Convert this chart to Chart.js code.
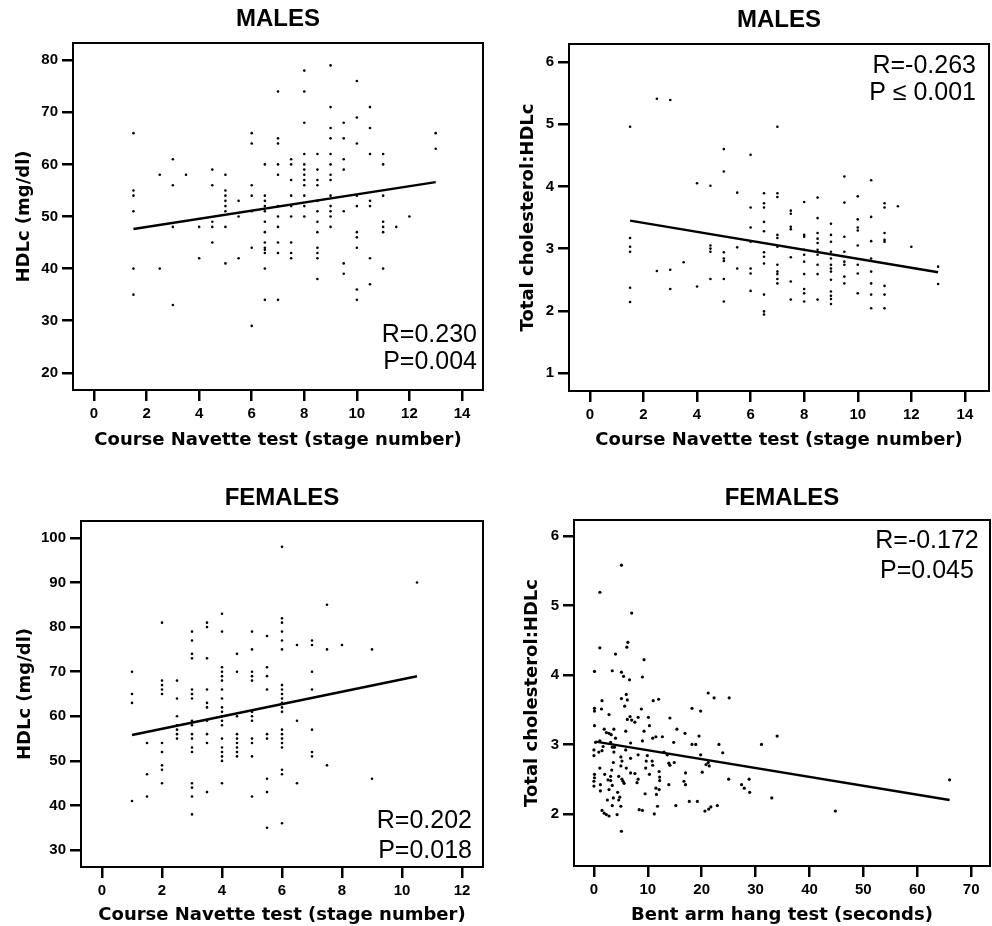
<!DOCTYPE html>
<html>
<head>
<meta charset="utf-8">
<script src="https://cdn.jsdelivr.net/npm/chart.js@4.4.1/dist/chart.umd.min.js"></script>
<style>
  body { margin: 0; background: #fff; }
  #wrap { position: relative; width: 992px; height: 926px; }
  canvas { position: absolute; }
</style>
</head>
<body>
<div id="wrap">
  <canvas id="c1" width="496" height="460" style="left:0;top:0"></canvas>
  <canvas id="c2" width="496" height="460" style="left:496px;top:0"></canvas>
  <canvas id="c3" width="496" height="466" style="left:0;top:460px"></canvas>
  <canvas id="c4" width="496" height="466" style="left:496px;top:460px"></canvas>
</div>
<script>
// males: HDLc vs Course Navette stage
const m1Stage = [1.5, 2.5, 3, 3.5, 4, 4.5, 5, 5.5, 6, 6.5, 7, 7.5, 8, 8.5, 9, 9.5, 10, 10.5, 11, 11.5, 12, 13];
const m1Hdl = [
  [66, 55, 54, 51, 40, 35],
  [58, 40],
  [61, 56, 48, 33],
  [58],
  [48, 42],
  [59, 56, 49, 48, 45],
  [58, 55, 54, 53, 52, 51, 48, 41],
  [53, 50, 42],
  [66, 64, 56, 54, 51, 44, 29],
  [60, 54, 53, 52, 51, 49, 47, 45, 44, 43.6, 43, 40, 34],
  [74, 65, 64, 60, 58, 52, 50, 48, 45, 43, 34],
  [61, 60, 57, 54, 52, 50, 45, 43, 42],
  [78, 74, 68, 62, 60, 59, 58, 57, 56, 54, 52, 50],
  [62, 59, 57, 56, 53, 51, 49, 47, 44, 43, 42, 38],
  [79, 71, 67, 65, 62, 60, 58, 57, 54, 52, 51, 50, 48],
  [68, 65, 61, 59, 51, 41, 39],
  [76, 69, 64, 54, 52, 47, 46, 44, 36, 34],
  [71, 67, 62, 53, 52, 42, 37],
  [62, 60, 54, 49, 48, 47, 40],
  [48],
  [50],
  [66, 63]
];
const m1Fit = [[1.5, 47.6], [13, 56.6]];

// males: total cholesterol:HDLc vs Course Navette stage
const m2Stage = [1.5, 2.5, 3, 3.5, 4, 4.5, 5, 5.5, 6, 6.5, 7, 7.5, 8, 8.5, 9, 9.5, 10, 10.5, 11, 11.5, 12, 13];
const m2Ratio = [
  [4.96, 3.17, 3.03, 2.95, 2.37, 2.14],
  [5.41, 2.64],
  [5.39, 2.66, 2.35],
  [2.78],
  [4.05, 2.39],
  [4.01, 3.05, 3.0, 2.95, 2.51],
  [4.6, 4.24, 2.94, 2.84, 2.8, 2.51, 2.15],
  [3.9, 3.02, 2.68],
  [4.51, 3.66, 3.34, 3.11, 2.68, 2.6, 2.32],
  [3.89, 3.73, 3.66, 3.43, 3.28, 2.94, 2.87, 2.76, 2.26, 1.99, 1.94],
  [4.96, 3.89, 3.83, 3.22, 3.17, 3.03, 2.74, 2.63, 2.59, 2.51, 2.44],
  [3.61, 3.56, 3.35, 3.31, 2.86, 2.47, 2.18],
  [3.75, 3.22, 3.19, 2.98, 2.9, 2.79, 2.59, 2.35, 2.28, 2.15],
  [3.82, 3.49, 3.25, 3.16, 3.09, 2.98, 2.9, 2.74, 2.59, 2.18],
  [3.4, 3.22, 3.11, 2.95, 2.84, 2.74, 2.68, 2.63, 2.5, 2.31, 2.24, 2.19, 2.11],
  [4.16, 3.74, 3.19, 2.95, 2.79, 2.74, 2.55, 2.44],
  [3.84, 3.47, 3.34, 3.29, 3.05, 2.74, 2.6, 2.28],
  [4.1, 3.51, 3.12, 2.84, 2.63, 2.44, 2.26, 2.04],
  [3.73, 3.66, 3.25, 3.14, 3.11, 2.4, 2.26, 2.04],
  [3.68],
  [3.03],
  [2.71, 2.43]
];
const m2Fit = [[1.5, 3.45], [13, 2.62]];

// females: HDLc vs Course Navette stage
const f1Stage = [1, 1.5, 2, 2.5, 3, 3.5, 4, 4.5, 5, 5.5, 6, 6.5, 7, 7.5, 8, 9, 10.5];
const f1Hdl = [
  [70, 65, 63, 41],
  [54, 47, 42],
  [81, 68, 67, 66, 65, 54, 52, 49, 48, 45],
  [68, 64, 60, 58, 57, 56, 55],
  [79, 77, 74, 73, 66, 65, 64, 59, 58, 56, 55, 53, 52, 45, 44, 42, 38],
  [81, 80, 73, 66, 63, 62, 59, 56, 54, 43],
  [83, 79, 71, 70, 69, 68, 66, 64, 62, 61, 60, 59, 58, 55, 53, 52, 51, 50, 45],
  [74, 70, 60, 56, 55, 54, 53, 52, 51],
  [79, 75, 70, 69, 68, 61, 60, 59, 55, 54, 51, 42],
  [78, 71, 69, 66, 56, 55, 46, 43, 35],
  [98, 82, 81, 79, 77, 75, 67, 66, 65, 64, 63, 62, 61, 57, 56, 55, 54, 53, 48, 47, 36],
  [76, 59, 45],
  [77, 76, 70, 66, 57, 52, 51],
  [85, 75, 49],
  [76],
  [75, 46],
  [90]
];
const f1Fit = [[1, 55.8], [10.5, 69]];

// females: total cholesterol:HDLc vs bent arm hang (seconds, ratio)
const f2Points = [
  [5.1, 5.58], [1.1, 5.19], [7.0, 4.89], [6.3, 4.47], [6.1, 4.4], [1.1, 4.39], [4.0, 4.3],
  [9.3, 4.22], [0.1, 4.05], [3.4, 4.06], [5.1, 4.04], [5.5, 3.98], [9.0, 3.97], [6.6, 3.93],
  [21.2, 3.74], [22.3, 3.67], [25.1, 3.67], [6.0, 3.72], [5.1, 3.66], [6.2, 3.64], [1.5, 3.63],
  [11.0, 3.63], [12.0, 3.65], [0.1, 3.52], [1.4, 3.51], [5.7, 3.55], [8.8, 3.51], [18.2, 3.52],
  [19.8, 3.48], [0.1, 3.48], [2.8, 3.43], [6.7, 3.4], [8.2, 3.39], [10.1, 3.39], [14.1, 3.38],
  [6.2, 3.36], [7.0, 3.35], [7.6, 3.32], [0.1, 3.27], [10.3, 3.27], [3.7, 3.22], [1.9, 3.22],
  [2.3, 3.17], [2.8, 3.16], [3.2, 3.14], [5.9, 3.19], [9.3, 3.19], [15.4, 3.22], [16.9, 3.16],
  [19.5, 3.12], [10.9, 3.09], [11.5, 3.11], [12.7, 3.11], [34.0, 3.12], [4.0, 3.09], [1.1, 3.05],
  [0.3, 3.03], [3.1, 3.03], [6.8, 3.02], [9.0, 3.05], [14.8, 3.03], [18.2, 3.0], [18.9, 3.0],
  [23.2, 3.0], [31.1, 3.0], [1.7, 2.97], [3.4, 2.96], [3.8, 2.96], [0, 2.92], [0.9, 2.89],
  [1.5, 2.91], [5.9, 2.92], [13.0, 2.89], [13.6, 2.85], [23.9, 2.88], [0, 2.84], [3.7, 2.89],
  [8.2, 2.85], [9.9, 2.84], [19.8, 2.85], [5.0, 2.82], [6.8, 2.8], [5.2, 2.76], [9.7, 2.76],
  [10.8, 2.76], [5.0, 2.69], [3.6, 2.74], [13.9, 2.73], [14.9, 2.74], [21.2, 2.74], [10.9, 2.7],
  [20.8, 2.71], [21.4, 2.69], [1.1, 2.66], [6.0, 2.66], [9.6, 2.66], [14.1, 2.7], [3.3, 2.63],
  [6.8, 2.59], [7.6, 2.58], [12.1, 2.61], [17.0, 2.59], [20.1, 2.6], [0.1, 2.57], [2.0, 2.57],
  [10.3, 2.57], [3.1, 2.54], [0.1, 2.52], [4.6, 2.54], [12.2, 2.53], [5.2, 2.5], [2.6, 2.49],
  [0, 2.47], [3.1, 2.48], [5.4, 2.47], [8.2, 2.5], [12.2, 2.48], [25.0, 2.5], [28.8, 2.5],
  [16.7, 2.47], [1.2, 2.42], [0, 2.4], [3.4, 2.41], [17.0, 2.42], [13.9, 2.42], [27.4, 2.42],
  [5.6, 2.44], [8.0, 2.45], [2.8, 2.35], [1.2, 2.33], [12.1, 2.35], [11.5, 2.37], [27.9, 2.37],
  [4.4, 2.31], [9.5, 2.29], [28.9, 2.31], [11.6, 2.28], [4.8, 2.24], [2.5, 2.2], [3.6, 2.23],
  [4.6, 2.2], [17.7, 2.18], [19.2, 2.18], [33.0, 2.23], [3.4, 2.12], [5.0, 2.11], [15.2, 2.12],
  [11.8, 2.11], [22.9, 2.12], [1.5, 2.05], [8.4, 2.06], [9.0, 2.05], [20.6, 2.04], [21.3, 2.07],
  [21.7, 2.1], [44.8, 2.04], [1.9, 2.01], [2.3, 1.99], [2.8, 1.97], [4.3, 1.99], [11.2, 2.0],
  [5.1, 1.75], [66.0, 2.49]
];
const f2Fit = [[0.3, 3.04], [66, 2.2]];

const stageTicks = [0, 2, 4, 6, 8, 10, 12, 14];
const stageTicksF = [0, 2, 4, 6, 8, 10, 12];
const secTicks = [0, 10, 20, 30, 40, 50, 60, 70];
const hdlTicksM = [20, 30, 40, 50, 60, 70, 80];
const hdlTicksF = [30, 40, 50, 60, 70, 80, 90, 100];
const ratioTicksM = [1, 2, 3, 4, 5, 6];
const ratioTicksF = [2, 3, 4, 5, 6];

Chart.defaults.font.family = '"Liberation Sans", Arial, sans-serif';
Chart.defaults.color = '#000';

function byStage(stages, values) {
  const pts = [];
  stages.forEach((s, i) => values[i].forEach(v => pts.push({x: s, y: v})));
  return pts;
}
const asXY = arr => arr.map(p => ({x: p[0], y: p[1]}));

const framePlugin = {
  id: 'frame',
  afterDatasetsDraw(chart) {
    const a = chart.chartArea, ctx = chart.ctx;
    ctx.save();
    ctx.strokeStyle = '#000';
    ctx.lineWidth = 2;
    ctx.strokeRect(a.left, a.top, a.right - a.left, a.bottom - a.top);
    ctx.restore();
  }
};

function statsPlugin(lines, x, ys, align) {
  return {
    id: 'stats',
    afterDraw(chart) {
      const ctx = chart.ctx;
      ctx.save();
      ctx.font = '25px "Liberation Sans", Arial, sans-serif';
      ctx.fillStyle = '#000';
      ctx.textAlign = align;
      ctx.textBaseline = 'alphabetic';
      lines.forEach((t, i) => ctx.fillText(t, x, ys[i]));
      ctx.restore();
    }
  };
}

function makeChart(id, p) {
  const canvas = document.getElementById(id);
  return new Chart(canvas, {
    type: 'scatter',
    data: {
      datasets: [
        {
          data: p.points,
          backgroundColor: '#000',
          borderWidth: 0,
          pointRadius: p.dot,
          pointHoverRadius: p.dot
        },
        {
          type: 'line',
          data: asXY(p.fit),
          borderColor: '#000',
          borderWidth: 2.5,
          pointRadius: 0,
          fill: false
        }
      ]
    },
    options: {
      responsive: false,
      animation: false,
      devicePixelRatio: 1,
      layout: { padding: { left: 0, top: 0, bottom: 0, right: canvas.width - p.right } },
      plugins: {
        legend: { display: false },
        tooltip: { enabled: false },
        title: {
          display: true,
          text: p.title,
          fullSize: false,
          font: { size: 24, weight: 'bold' },
          color: '#000',
          padding: p.titlePad
        }
      },
      scales: {
        x: {
          type: 'linear',
          min: p.xMin, max: p.xMax,
          afterBuildTicks: s => { s.ticks = p.xTicks.map(v => ({value: v})); },
          afterFit: s => { s.height = canvas.height - p.bottom; },
          grid: { drawOnChartArea: false, drawTicks: true, tickLength: 11, color: '#000', lineWidth: 2.5 },
          border: { display: false },
          ticks: { font: { size: 15, weight: 'bold' }, color: '#000', padding: 4, maxRotation: 0, autoSkip: false },
          title: {
            display: true,
            text: p.xTitle,
            font: { family: '"DejaVu Sans", sans-serif', size: 18, weight: 'bold' },
            color: '#000',
            padding: { top: 0, bottom: p.xTitlePad }
          }
        },
        y: {
          type: 'linear',
          min: p.yMin, max: p.yMax,
          afterBuildTicks: s => { s.ticks = p.yTicks.map(v => ({value: v})); },
          afterFit: s => { s.width = p.left; },
          grid: { drawOnChartArea: false, drawTicks: true, tickLength: 11, color: '#000', lineWidth: 2.5 },
          border: { display: false },
          ticks: { font: { size: 15, weight: 'bold' }, color: '#000', padding: 4 },
          title: {
            display: true,
            text: p.yTitle,
            font: { family: '"DejaVu Sans", sans-serif', size: 18, weight: 'bold' },
            color: '#000',
            padding: { top: p.yTitlePad, bottom: 0 }
          }
        }
      }
    },
    plugins: [framePlugin, statsPlugin(p.stats, p.statsX, p.statsY, p.statsAlign)]
  });
}

makeChart('c1', {
  points: byStage(m1Stage, m1Hdl), fit: m1Fit, dot: 1.3,
  left: 73, right: 483, bottom: 390,
  title: 'MALES', titlePad: { top: 4.6, bottom: 9.6 },
  xMin: -0.8, xMax: 14.8, xTicks: stageTicks,
  yMin: 16.7, yMax: 83.3, yTicks: hdlTicksM,
  xTitle: 'Course Navette test (stage number)', xTitlePad: 9,
  yTitle: 'HDLc (mg/dl)', yTitlePad: 14,
  stats: ['R=0.230', 'P=0.004'], statsX: 477, statsY: [342, 369], statsAlign: 'right'
});

makeChart('c2', {
  points: byStage(m2Stage, m2Ratio), fit: m2Fit, dot: 1.3,
  left: 73, right: 493, bottom: 391,
  title: 'MALES', titlePad: { top: 5.6, bottom: 9.6 },
  xMin: -0.78, xMax: 14.9, xTicks: stageTicks,
  yMin: 0.71, yMax: 6.29, yTicks: ratioTicksM,
  xTitle: 'Course Navette test (stage number)', xTitlePad: 9,
  yTitle: 'Total cholesterol:HDLc', yTitlePad: 22,
  stats: ['R=-0.263', 'P \u2264 0.001'], statsX: 480, statsY: [73, 100], statsAlign: 'right'
});

makeChart('c3', {
  points: byStage(f1Stage, f1Hdl), fit: f1Fit, dot: 1.3,
  left: 81, right: 483, bottom: 407,
  title: 'FEMALES', titlePad: { top: 23.6, bottom: 8.6 },
  xMin: -0.7, xMax: 12.7, xTicks: stageTicksF,
  yMin: 26.2, yMax: 103.8, yTicks: hdlTicksF,
  xTitle: 'Course Navette test (stage number)', xTitlePad: 0,
  yTitle: 'HDLc (mg/dl)', yTitlePad: 15,
  stats: ['R=0.202', 'P=0.018'], statsX: 472, statsY: [368, 398], statsAlign: 'right'
});

makeChart('c4', {
  points: asXY(f2Points), fit: f2Fit, dot: 1.6,
  left: 78, right: 494, bottom: 406,
  title: 'FEMALES', titlePad: { top: 23.6, bottom: 7.6 },
  xMin: -3.7, xMax: 73.5, xTicks: secTicks,
  yMin: 1.25, yMax: 6.23, yTicks: ratioTicksF,
  xTitle: 'Bent arm hang test (seconds)', xTitlePad: 0,
  yTitle: 'Total cholesterol:HDLc', yTitlePad: 26,
  stats: ['R=-0.172', 'P=0.045'], statsX: 431, statsY: [88, 118], statsAlign: 'center'
});
</script>
</body>
</html>
